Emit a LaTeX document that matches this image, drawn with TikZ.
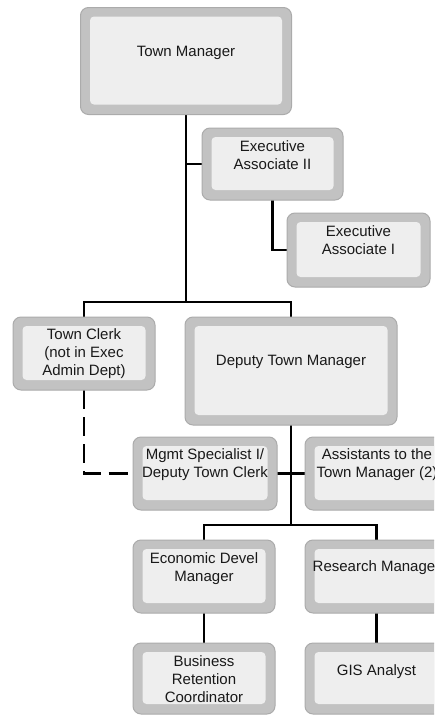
\documentclass[tikz,border=0pt]{standalone}
\usepackage{fontspec}
\setmainfont{Liberation Sans}
\usetikzlibrary{backgrounds}
\definecolor{boxband}{HTML}{C2C2C2}
\definecolor{boxedge}{HTML}{ABABAB}
\definecolor{boxin}{HTML}{EEEEEE}
\tikzset{
  orgbox/.style={rectangle, rounded corners=8pt, fill=boxband, draw=boxedge, line width=1pt,
    outer sep=0pt, inner sep=0pt,
    path picture={\fill[boxin, rounded corners=4pt]
      ([shift={(9.5pt,-9pt)}]path picture bounding box.north west) rectangle
      ([shift={(-9.5pt,10pt)}]path picture bounding box.south east);}},
  orgtext/.style={anchor=north, inner sep=0pt, align=center, text=black!90,
    font=\fontsize{15pt}{18pt}\selectfont},
  link/.style={line width=2.4pt, black},
  dotlink/.style={line width=2.4pt, black, dash pattern=on 19pt off 8pt}
}
\begin{document}
\begin{tikzpicture}[x=1pt,y=-1pt]
\useasboundingbox (0,0) rectangle (434,715);
\clip (0,0) rectangle (434,715);
% boxes
\node[orgbox, minimum width=211pt, minimum height=107pt] (tm) at (186,61) {};
\node[orgbox, minimum width=141pt, minimum height=72pt] (ea2) at (272.5,164) {};
\node[orgbox, minimum width=143pt, minimum height=74pt] (ea1) at (358.5,250) {};
\node[orgbox, minimum width=142pt, minimum height=73pt] (tc) at (84,353.5) {};
\node[orgbox, minimum width=212pt, minimum height=108pt] (dtm) at (291,371) {};
\node[orgbox, minimum width=144pt, minimum height=73pt] (ms) at (205,473.5) {};
\node[orgbox, minimum width=144pt, minimum height=73pt] (asst) at (377,473.5) {};
\node[orgbox, minimum width=142pt, minimum height=73pt] (ed) at (204,576.5) {};
\node[orgbox, minimum width=143pt, minimum height=73pt] (rm) at (376.5,576.5) {};
\node[orgbox, minimum width=142pt, minimum height=71pt] (br) at (204,678.5) {};
\node[orgbox, minimum width=143pt, minimum height=71pt] (gis) at (376.5,678.5) {};
% texts
\node[orgtext] (tmt) at (186,46) {Town Manager};
\node[orgtext] (ea2t) at (272.5,140) {Executive\\Associate II};
\node[orgtext] (ea1t) at (358.5,225) {Executive\\Associate I};
\node[orgtext] (tct) at (84,328) {Town Clerk\\(not in Exec\\Admin Dept)};
\node[orgtext] (dtmt) at (291,355) {Deputy Town Manager};
\node[orgtext] (mst) at (205,448) {Mgmt Specialist I/\\Deputy Town Clerk};
\node[orgtext] (asstt) at (377,448) {Assistants to the\\Town Manager (2)};
\node[orgtext] (edt) at (204,552) {Economic Devel\\Manager};
\node[orgtext] (rmt) at (376.5,560) {Research Manager};
\node[orgtext] (brt) at (204,655) {Business\\Retention\\Coordinator};
\node[orgtext] (gist) at (376.5,664) {GIS Analyst};
% junctions
\coordinate (b1) at (186,302);
\coordinate (b2) at (291,525);
% connectors
\begin{scope}[on background layer]
\draw[link] (tm.south) -- (b1);
\draw[link] (tm.south |- ea2.west) -- (ea2.west);
\draw[link] (ea2.south) |- (ea1.west);
\draw[link] (tc.north) |- (b1) -| (dtm.north);
\draw[link] (dtm.south) -- (b2);
\draw[link] (ms.east) -- (asst.west);
\draw[link] (ed.north) |- (b2) -| (rm.north);
\draw[link] (ed.south) -- (br.north);
\draw[link] (rm.south) -- (gis.north);
\draw[dotlink] (tc.south) |- (ms.west);
\end{scope}
\end{tikzpicture}
\end{document}
